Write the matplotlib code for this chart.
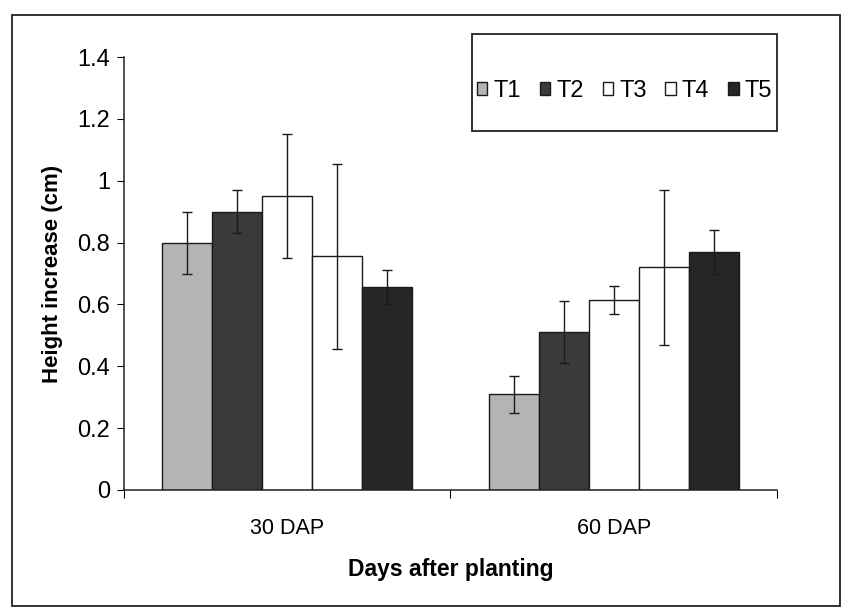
import numpy as np
import matplotlib.pyplot as plt
from matplotlib.patches import Rectangle

plt.rcParams['font.family'] = ['Liberation Sans', 'DejaVu Sans']

# data
groups = ['30 DAP', '60 DAP']
treatments = ['T1', 'T2', 'T3', 'T4', 'T5']
means = {
    'T1': [0.80, 0.31],
    'T2': [0.90, 0.51],
    'T3': [0.95, 0.615],
    'T4': [0.755, 0.72],
    'T5': [0.655, 0.77],
}
errors = {
    'T1': [0.10, 0.06],
    'T2': [0.07, 0.10],
    'T3': [0.20, 0.045],
    'T4': [0.30, 0.25],
    'T5': [0.055, 0.07],
}
colors = {
    'T1': '#b4b4b4',
    'T2': '#3a3a3a',
    'T3': '#ffffff',
    'T4': '#ffffff',
    'T5': '#262626',
}

fig = plt.figure(figsize=(8.54, 6.09), dpi=100)
ax = fig.add_axes([124 / 854, 1 - 490 / 609, 653 / 854, 433 / 609])

# outer frame around the whole figure
fig.patches.append(Rectangle((12 / 854, 3 / 609), 828 / 854, 591 / 609,
                             transform=fig.transFigure, fill=False,
                             edgecolor='#222222', linewidth=1.3))

x = np.arange(len(groups))
width = 0.153
for k, t in enumerate(treatments):
    pos = x + (k - 2) * width
    ax.bar(pos, means[t], width, color=colors[t], edgecolor='#1a1a1a',
           linewidth=1.0, label=t, zorder=2)
    ax.errorbar(pos, means[t], yerr=errors[t], fmt='none', ecolor='#1a1a1a',
                elinewidth=1.0, capsize=3.6, capthick=1.0, zorder=3)

ax.set_xlim(-0.5, 1.5)
ax.set_ylim(0, 1.4)
ax.set_yticks(np.arange(0, 1.41, 0.2))
ax.set_yticklabels(['0', '0.2', '0.4', '0.6', '0.8', '1', '1.2', '1.4'])
ax.set_xticks([-0.5, 0.5, 1.5])
ax.set_xticklabels([])
ax.set_xticks(x, minor=True)
ax.set_xticklabels(groups, minor=True)
ax.tick_params(axis='x', which='minor', length=0, pad=20, labelsize=15.5)
ax.tick_params(axis='x', which='major', length=6, direction='out')
ax.tick_params(axis='y', length=5, direction='out', labelsize=17, pad=5)

for side in ['top', 'right']:
    ax.spines[side].set_visible(False)
for side in ['left', 'bottom']:
    ax.spines[side].set_color('#222222')
    ax.spines[side].set_linewidth(1.1)

ax.set_ylabel('Height increase (cm)', fontsize=16, fontweight='bold', labelpad=10)
ax.set_xlabel('Days after planting', fontsize=16.5, fontweight='bold', labelpad=14)

# legend with its tall frame
ax.add_patch(Rectangle((0.533, 0.829), 0.467, 0.224, transform=ax.transAxes,
                       fill=False, edgecolor='#222222', linewidth=1.3,
                       clip_on=False, zorder=5))
ax.legend(loc='center', bbox_to_anchor=(0.533, 0.81, 0.467, 0.224),
          ncol=5, frameon=False, fontsize=17, handlelength=0.45,
          handleheight=0.45, handletextpad=0.25, columnspacing=0.8)

fig.savefig('out.png', dpi=100)
